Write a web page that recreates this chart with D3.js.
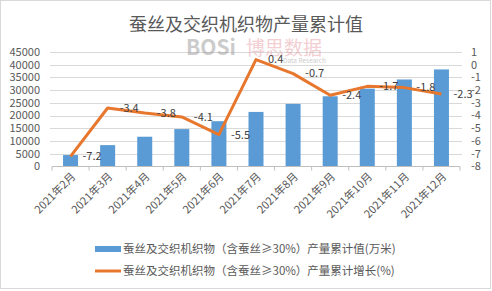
<!DOCTYPE html>
<html>
<head>
<meta charset="utf-8">
<script src="https://cdn.jsdelivr.net/npm/d3@7"></script>
<style>
  body { margin: 0; background: #fff; }
  text { font-family: "Noto Sans CJK SC", "Liberation Sans", sans-serif; }
</style>
</head>
<body>
<svg id="chart" width="492" height="291"></svg>
<script>
let months = ["2021年2月", "2021年3月", "2021年4月", "2021年5月", "2021年6月", "2021年7月",
              "2021年8月", "2021年9月", "2021年10月", "2021年11月", "2021年12月"];
let output = [4500, 8400, 11700, 14700, 17800, 21450, 24600, 27600, 30600, 34200, 38150];
let growth = [-7.2, -3.4, -3.8, -4.1, -5.5, 0.4, -0.7, -2.4, -1.7, -1.8, -2.3];
let leftTicks = d3.range(0, 45001, 5000);
let rightTicks = d3.range(-8, 2, 1);

let title = "蚕丝及交织机织物产量累计值";
let legendNames = ["蚕丝及交织机织物（含蚕丝≥30%）产量累计值(万米)",
                   "蚕丝及交织机织物（含蚕丝≥30%）产量累计增长(%)"];

let barColor = "#5B9BD5", lineColor = "#E8772E", textColor = "#595959";

let svg = d3.select("#chart");
let plotLeft = 52, plotRight = 460, plotTop = 52, plotBottom = 166.5;

// outer frame
svg.append("rect").attr("x", 0.5).attr("y", 0.5).attr("width", 490).attr("height", 288)
    .attr("fill", "#fff").attr("stroke", "#d9d9d9");

let x = d3.scaleBand().domain(months).range([plotLeft, plotRight]);
let yL = d3.scaleLinear().domain([0, 45000]).range([plotBottom, plotTop]);
let yR = d3.scaleLinear().domain([-8, 1]).range([plotBottom, plotTop]);

// title
svg.append("text").attr("x", 246).attr("y", 31).attr("text-anchor", "middle")
    .attr("font-size", 18).attr("fill", textColor).text(title);

// gridlines
svg.append("g").selectAll("line").data(leftTicks.slice(1)).enter().append("line")
    .attr("x1", plotLeft - 2).attr("x2", plotRight + 2)
    .attr("y1", d => Math.round(yL(d)) + 0.5).attr("y2", d => Math.round(yL(d)) + 0.5)
    .attr("stroke", "#d9d9d9");

// watermark
let wm = svg.append("g").attr("opacity", 0.5);
wm.append("text").attr("x", 186).attr("y", 55).attr("font-size", 21).attr("font-weight", "bold")
    .attr("fill", "#999").attr("font-family", "Liberation Sans").text("BOSi");
wm.append("text").attr("x", 246).attr("y", 55).attr("font-size", 19)
    .attr("fill", "#e8a0a8").text("博思数据");
wm.append("text").attr("x", 283).attr("y", 63).attr("font-size", 6.5)
    .attr("fill", "#999").attr("font-family", "Liberation Sans").text("Data Research");

// bars
let bw = 15;
svg.append("g").selectAll("rect").data(output).enter().append("rect")
    .attr("x", (d, i) => x(months[i]) + x.bandwidth() / 2 - bw / 2)
    .attr("width", bw)
    .attr("y", d => yL(d))
    .attr("height", d => yL(0) - yL(d))
    .attr("fill", barColor);

// x axis
let xAxis = svg.append("g").attr("transform", `translate(0,${plotBottom})`);
xAxis.append("line").attr("x1", plotLeft).attr("x2", plotRight).attr("stroke", "#bfbfbf");
xAxis.selectAll(".tk").data(d3.range(months.length + 1)).enter().append("line")
    .attr("x1", i => plotLeft + i * x.step()).attr("x2", i => plotLeft + i * x.step())
    .attr("y1", 0).attr("y2", 4).attr("stroke", "#bfbfbf");
xAxis.selectAll(".lab").data(months).enter().append("text")
    .attr("transform", d => `translate(${x(d) + x.bandwidth() / 2 + 3},8) rotate(-45)`)
    .attr("text-anchor", "end").attr("dy", "0.35em")
    .attr("font-size", 11).attr("fill", textColor).text(d => d);

// left axis labels
svg.append("g").selectAll("text").data(leftTicks).enter().append("text")
    .attr("x", 40).attr("y", d => yL(d)).attr("dy", "0.35em").attr("text-anchor", "end")
    .attr("font-size", 11).attr("fill", textColor).attr("font-family", "Liberation Sans")
    .text(d => d);

// right axis labels
svg.append("g").selectAll("text").data(rightTicks).enter().append("text")
    .attr("x", 471).attr("y", d => yR(d)).attr("dy", "0.35em").attr("text-anchor", "start")
    .attr("font-size", 11).attr("fill", textColor).attr("font-family", "Liberation Sans")
    .text(d => d);

// growth line
let line = d3.line().x((d, i) => x(months[i]) + x.bandwidth() / 2).y(d => yR(d));
svg.append("path").datum(growth).attr("d", line).attr("fill", "none")
    .attr("stroke", lineColor).attr("stroke-width", 3).attr("stroke-linejoin", "round");

svg.append("g").selectAll("text").data(growth).enter().append("text")
    .attr("x", (d, i) => x(months[i]) + x.bandwidth() / 2 + 12)
    .attr("y", d => yR(d)).attr("dy", "0.35em")
    .attr("font-size", 11).attr("fill", "#404040").attr("font-family", "Liberation Sans")
    .text(d => d.toFixed(1));

// legend
let lg = svg.append("g");
lg.append("rect").attr("x", 95).attr("y", 246).attr("width", 26).attr("height", 6).attr("fill", barColor);
lg.append("line").attr("x1", 95).attr("x2", 121).attr("y1", 271).attr("y2", 271)
    .attr("stroke", lineColor).attr("stroke-width", 3);
lg.selectAll("text").data(legendNames).enter().append("text")
    .attr("x", 123).attr("y", (d, i) => 249 + i * 22).attr("dy", "0.35em")
    .attr("font-size", 11.5).attr("fill", textColor).text(d => d);
</script>
</body>
</html>
